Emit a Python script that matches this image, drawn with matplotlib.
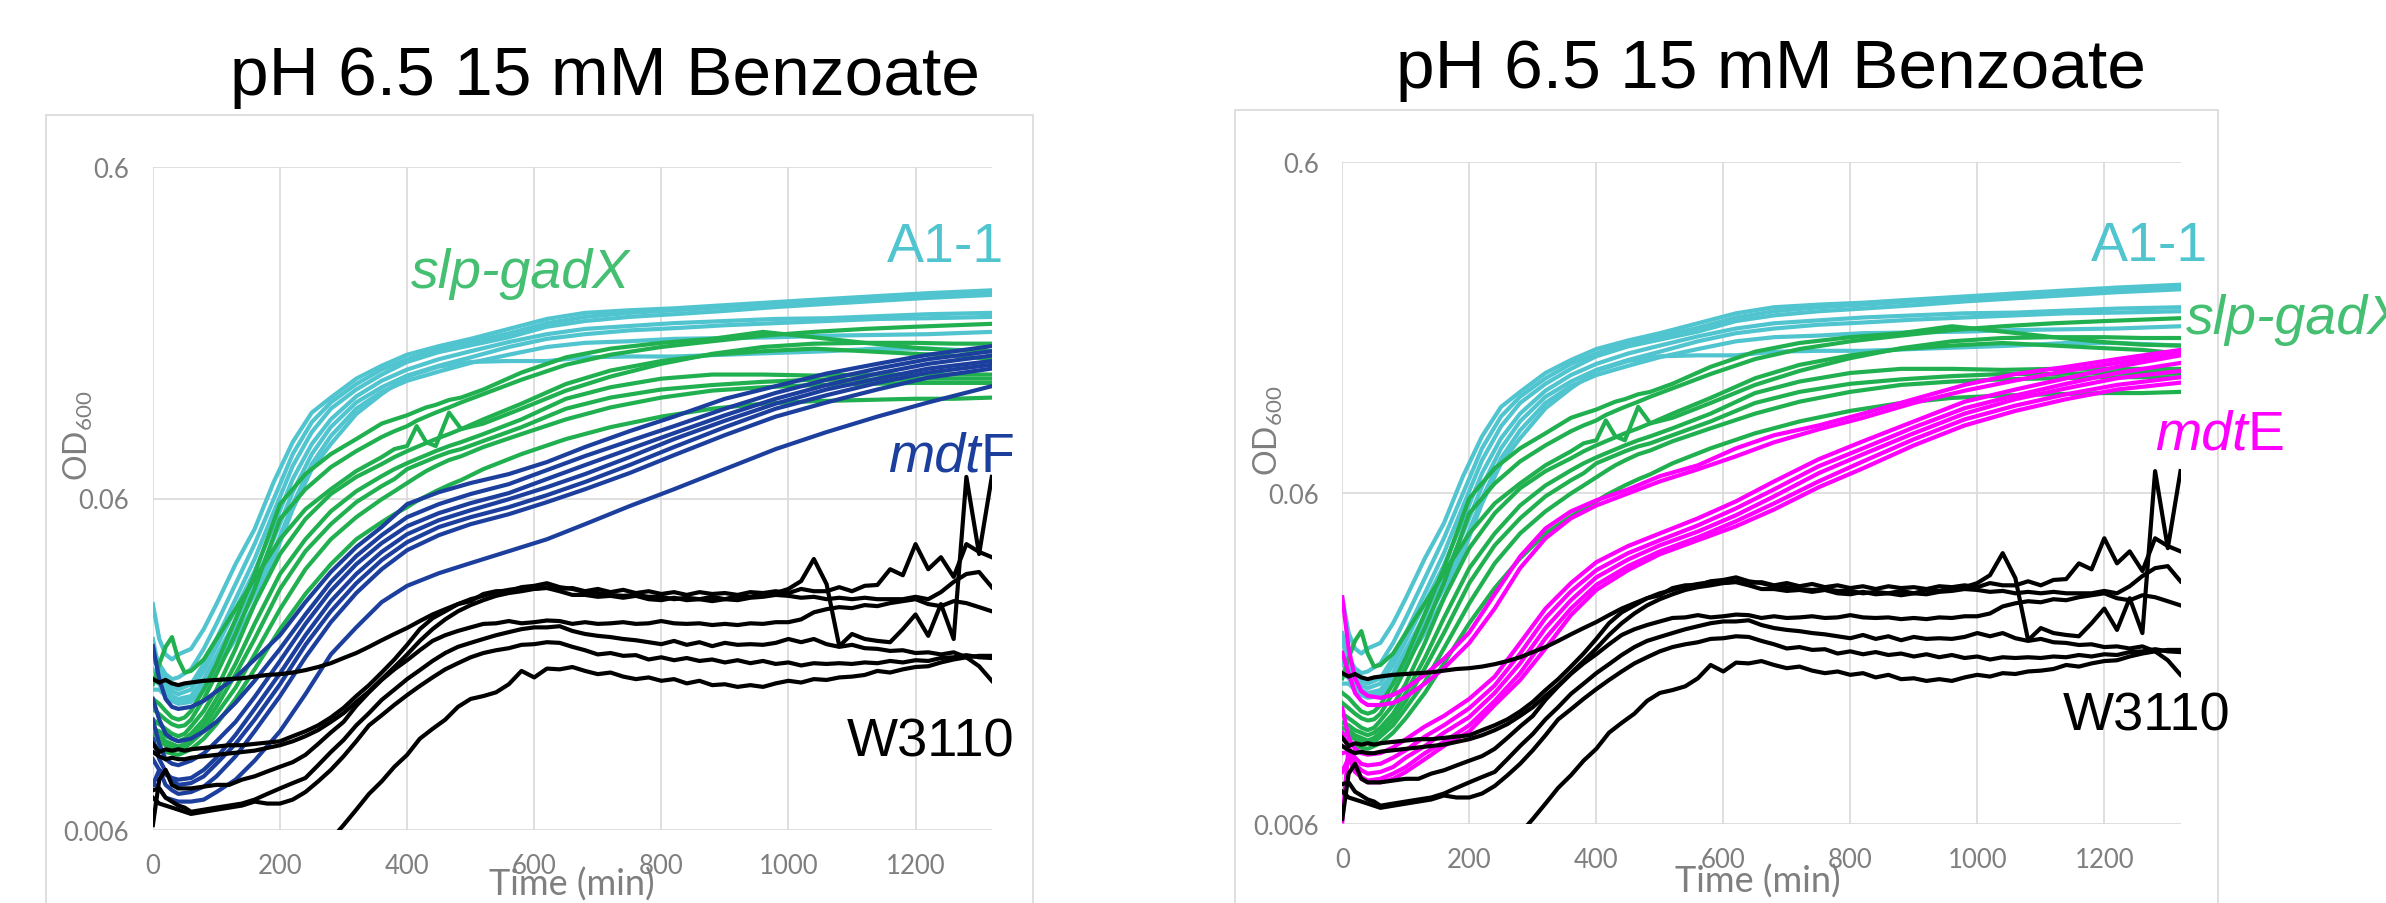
import matplotlib
matplotlib.use("Agg")
import matplotlib.pyplot as plt
from matplotlib.patches import Rectangle

W, H = 2386, 904

# sampling times (min) for each group of wells
t_a11 = [0, 10, 20, 30, 40, 60, 80, 100, 130, 160, 190, 220, 250, 280, 320,
         360, 400, 450, 500, 560, 620, 680, 750, 820, 900, 980, 1060, 1140, 1220, 1320]
t_gadx = [0, 10, 20, 30, 40, 50, 60, 80, 100, 130, 160, 200, 240, 280, 320, 360,
          380, 400, 415, 430, 445, 466, 485, 520, 580, 650, 720, 800, 880, 960,
          1040, 1120, 1200, 1260, 1320]
t_mdt = [0, 10, 20, 30, 40, 60, 80, 100, 130, 160, 200, 240, 280, 320, 360, 400,
         450, 500, 560, 620, 680, 750, 820, 900, 980, 1060, 1140, 1220, 1320]
t_wt = [0, 10, 20, 30, 40, 50, 60] + list(range(80, 1340, 20))

# OD600 replicates
a11 = [
    [0.0288, 0.0226, 0.0203, 0.0196, 0.0203, 0.0211, 0.0242, 0.0288, 0.0380, 0.0485, 0.0672, 0.0888, 0.109, 0.121, 0.138,
     0.151, 0.163, 0.173, 0.182, 0.195, 0.209, 0.218, 0.222, 0.225, 0.230, 0.235, 0.240, 0.245, 0.250, 0.255],
    [0.0211, 0.0190, 0.0177, 0.0171, 0.0173, 0.0183, 0.0211, 0.0251, 0.0331, 0.0437, 0.0597, 0.0817, 0.102, 0.117, 0.133,
     0.147, 0.158, 0.170, 0.178, 0.189, 0.203, 0.212, 0.218, 0.222, 0.227, 0.232, 0.237, 0.242, 0.247, 0.252],
    [0.0196, 0.0183, 0.0171, 0.0162, 0.0159, 0.0165, 0.0190, 0.0226, 0.0298, 0.0394, 0.0546, 0.0752, 0.0952, 0.112, 0.128,
     0.142, 0.155, 0.166, 0.174, 0.184, 0.198, 0.206, 0.212, 0.216, 0.221, 0.227, 0.232, 0.237, 0.242, 0.247],
    [0.0226, 0.0181, 0.0165, 0.0157, 0.0154, 0.0159, 0.0181, 0.0214, 0.0278, 0.0362, 0.0495, 0.0687, 0.0876, 0.104, 0.122,
     0.136, 0.147, 0.158, 0.167, 0.178, 0.188, 0.195, 0.199, 0.203, 0.206, 0.209, 0.210, 0.213, 0.216, 0.218],
    [0.0183, 0.0173, 0.0159, 0.0152, 0.0149, 0.0152, 0.0171, 0.0201, 0.0256, 0.0333, 0.0452, 0.0627, 0.0817, 0.0986, 0.117,
     0.130, 0.141, 0.151, 0.160, 0.172, 0.182, 0.188, 0.193, 0.196, 0.200, 0.203, 0.206, 0.209, 0.210, 0.212],
    [0.0171, 0.0165, 0.0154, 0.0149, 0.0146, 0.0149, 0.0164, 0.0190, 0.0242, 0.0309, 0.0413, 0.0577, 0.0762, 0.0926, 0.112,
     0.126, 0.136, 0.145, 0.154, 0.163, 0.172, 0.177, 0.179, 0.182, 0.183, 0.184, 0.186, 0.187, 0.188, 0.191],
    [0.0159, 0.0159, 0.0152, 0.0147, 0.0144, 0.0146, 0.0159, 0.0183, 0.0226, 0.0288, 0.0394, 0.0557, 0.0736, 0.0876, 0.108,
     0.124, 0.140, 0.150, 0.155, 0.156, 0.156, 0.160, 0.161, 0.161, 0.163, 0.165, 0.167, 0.170, 0.170, 0.167],
]

slp_gadx = [
    [0.0149, 0.0144, 0.0137, 0.0131, 0.0129, 0.0131, 0.0137, 0.0159, 0.0190, 0.0259, 0.0355, 0.0577, 0.0711, 0.0817,
     0.0907, 0.101, 0.104, 0.107, 0.110, 0.113, 0.115, 0.119, 0.121, 0.128, 0.144, 0.160, 0.170, 0.177, 0.182, 0.191,
     0.184, 0.177, 0.171, 0.168, 0.167],
    [0.0139, 0.0134, 0.0129, 0.0125, 0.0123, 0.0124, 0.0129, 0.0149, 0.0177, 0.0234, 0.0320, 0.0520, 0.0640, 0.0746,
     0.0834, 0.0920, 0.0958, 0.0992, 0.103, 0.106, 0.109, 0.113, 0.117, 0.124, 0.137, 0.152, 0.163, 0.172, 0.179, 0.186,
     0.191, 0.195, 0.198, 0.200, 0.202],
    [0.0165, 0.0190, 0.0214, 0.0229, 0.0196, 0.0179, 0.0181, 0.0196, 0.0226, 0.0278, 0.0343, 0.0452, 0.0557, 0.0640,
     0.0726, 0.0800, 0.0846, 0.0864, 0.0992, 0.0888, 0.0864, 0.109, 0.0972, 0.101, 0.112, 0.127, 0.140, 0.153, 0.164,
     0.172, 0.176, 0.177, 0.177, 0.176, 0.176],
    [0.0129, 0.0125, 0.0121, 0.0117, 0.0115, 0.0117, 0.0123, 0.0137, 0.0159, 0.0211, 0.0288, 0.0408, 0.0520, 0.0619,
     0.0697, 0.0762, 0.0800, 0.0834, 0.0858, 0.0882, 0.0907, 0.0939, 0.0972, 0.104, 0.116, 0.133, 0.146, 0.156, 0.163,
     0.167, 0.170, 0.167, 0.164, 0.162, 0.158],
    [0.0121, 0.0119, 0.0115, 0.0113, 0.0111, 0.0113, 0.0117, 0.0129, 0.0149, 0.0190, 0.0251, 0.0355, 0.0452, 0.0549,
     0.0631, 0.0701, 0.0736, 0.0767, 0.0789, 0.0811, 0.0834, 0.0864, 0.0888, 0.0939, 0.104, 0.120, 0.130, 0.138, 0.142,
     0.142, 0.141, 0.142, 0.142, 0.142, 0.142],
    [0.0117, 0.0115, 0.0111, 0.0109, 0.0107, 0.0109, 0.0113, 0.0124, 0.0141, 0.0177, 0.0226, 0.0320, 0.0416, 0.0502,
     0.0585, 0.0654, 0.0687, 0.0736, 0.0757, 0.0778, 0.0800, 0.0828, 0.0846, 0.0895, 0.0985, 0.112, 0.121, 0.128, 0.132,
     0.135, 0.137, 0.137, 0.138, 0.138, 0.138],
    [0.0113, 0.0111, 0.0108, 0.0106, 0.0105, 0.0106, 0.0110, 0.0119, 0.0134, 0.0161, 0.0203, 0.0278, 0.0367, 0.0452,
     0.0527, 0.0597, 0.0631, 0.0668, 0.0697, 0.0726, 0.0751, 0.0784, 0.0805, 0.0858, 0.0939, 0.104, 0.113, 0.121, 0.127,
     0.130, 0.132, 0.133, 0.134, 0.134, 0.134],
    [0.0109, 0.0106, 0.0103, 0.0102, 0.0101, 0.0103, 0.0105, 0.0113, 0.0125, 0.0149, 0.0183, 0.0242, 0.0309, 0.0380,
     0.0452, 0.0509, 0.0538, 0.0565, 0.0589, 0.0610, 0.0631, 0.0659, 0.0682, 0.0736, 0.0817, 0.0907, 0.0985, 0.106,
     0.112, 0.116, 0.118, 0.119, 0.120, 0.120, 0.121],
]

mdtf = [
    [0.0215, 0.0171, 0.0149, 0.0141, 0.0139, 0.0141, 0.0147, 0.0157, 0.0173, 0.0196, 0.0232, 0.0292, 0.0360, 0.0428,
     0.0492, 0.0577, 0.0627, 0.0668, 0.0711, 0.0773, 0.0858, 0.0958, 0.106, 0.120, 0.131, 0.143, 0.153, 0.163, 0.173],
    [0.0149, 0.0129, 0.0117, 0.0113, 0.0111, 0.0113, 0.0119, 0.0127, 0.0145, 0.0169, 0.0211, 0.0268, 0.0336, 0.0402,
     0.0465, 0.0527, 0.0577, 0.0619, 0.0663, 0.0731, 0.0806, 0.0895, 0.0992, 0.112, 0.125, 0.137, 0.148, 0.158, 0.167],
    [0.0129, 0.0109, 0.0098, 0.0095, 0.0094, 0.0097, 0.0102, 0.0111, 0.0127, 0.0151, 0.0194, 0.0251, 0.0316, 0.0380,
     0.0440, 0.0495, 0.0542, 0.0581, 0.0623, 0.0687, 0.0757, 0.0846, 0.0945, 0.107, 0.120, 0.132, 0.143, 0.153, 0.162],
    [0.0098, 0.0091, 0.0088, 0.0086, 0.0085, 0.0086, 0.0091, 0.0099, 0.0116, 0.0139, 0.0178, 0.0232, 0.0294, 0.0355,
     0.0414, 0.0468, 0.0516, 0.0553, 0.0597, 0.0649, 0.0711, 0.0800, 0.0907, 0.103, 0.116, 0.128, 0.138, 0.148, 0.156],
    [0.0113, 0.0098, 0.0090, 0.0085, 0.0082, 0.0083, 0.0087, 0.0095, 0.0109, 0.0129, 0.0165, 0.0217, 0.0274, 0.0333,
     0.0391, 0.0443, 0.0492, 0.0527, 0.0565, 0.0614, 0.0673, 0.0757, 0.0858, 0.0985, 0.112, 0.123, 0.134, 0.144, 0.152],
    [0.0082, 0.0091, 0.0082, 0.0079, 0.0077, 0.0078, 0.0081, 0.0087, 0.0100, 0.0119, 0.0152, 0.0199, 0.0254, 0.0311,
     0.0367, 0.0419, 0.0465, 0.0502, 0.0538, 0.0585, 0.0640, 0.0716, 0.0811, 0.0932, 0.106, 0.117, 0.128, 0.139, 0.148],
    [0.0083, 0.0080, 0.0075, 0.0074, 0.0073, 0.0073, 0.0074, 0.0078, 0.0085, 0.0097, 0.0119, 0.0154, 0.0203, 0.0245,
     0.0292, 0.0327, 0.0357, 0.0383, 0.0416, 0.0452, 0.0502, 0.0569, 0.0640, 0.0736, 0.0846, 0.0952, 0.106, 0.117, 0.131],
]

mdte = [
    [0.0290, 0.0203, 0.0165, 0.0151, 0.0146, 0.0144, 0.0147, 0.0154, 0.0169, 0.0189, 0.0227, 0.0296, 0.0385, 0.0468,
     0.0527, 0.0569, 0.0614, 0.0673, 0.0726, 0.0817, 0.0895, 0.0958, 0.104, 0.115, 0.127, 0.137, 0.144, 0.152, 0.162],
    [0.0197, 0.0171, 0.0149, 0.0141, 0.0137, 0.0137, 0.0139, 0.0145, 0.0159, 0.0177, 0.0211, 0.0268, 0.0355, 0.0437,
     0.0502, 0.0549, 0.0597, 0.0649, 0.0706, 0.0773, 0.0852, 0.0932, 0.101, 0.112, 0.122, 0.131, 0.140, 0.148, 0.158],
    [0.0134, 0.0109, 0.0101, 0.0098, 0.0097, 0.0098, 0.0102, 0.0108, 0.0118, 0.0127, 0.0143, 0.0167, 0.0211, 0.0268,
     0.0320, 0.0370, 0.0414, 0.0452, 0.0502, 0.0565, 0.0649, 0.0757, 0.0858, 0.0985, 0.113, 0.123, 0.133, 0.144, 0.156],
    [0.0113, 0.0101, 0.0095, 0.0091, 0.0090, 0.0091, 0.0095, 0.0100, 0.0110, 0.0119, 0.0134, 0.0157, 0.0196, 0.0251,
     0.0302, 0.0350, 0.0394, 0.0431, 0.0478, 0.0538, 0.0614, 0.0721, 0.0817, 0.0945, 0.108, 0.118, 0.128, 0.138, 0.148],
    [0.0098, 0.0099, 0.0091, 0.0087, 0.0085, 0.0086, 0.0089, 0.0095, 0.0103, 0.0113, 0.0126, 0.0149, 0.0183, 0.0234,
     0.0284, 0.0333, 0.0377, 0.0416, 0.0458, 0.0513, 0.0585, 0.0687, 0.0784, 0.0907, 0.104, 0.115, 0.124, 0.133, 0.140],
    [0.0086, 0.0095, 0.0086, 0.0083, 0.0081, 0.0082, 0.0085, 0.0089, 0.0098, 0.0106, 0.0119, 0.0141, 0.0171, 0.0218,
     0.0268, 0.0316, 0.0360, 0.0399, 0.0440, 0.0492, 0.0557, 0.0649, 0.0746, 0.0870, 0.0999, 0.110, 0.119, 0.127, 0.134],
    [0.0061, 0.0103, 0.0091, 0.0082, 0.0080, 0.0080, 0.0082, 0.0086, 0.0094, 0.0103, 0.0114, 0.0137, 0.0163, 0.0203,
     0.0256, 0.0305, 0.0350, 0.0391, 0.0431, 0.0475, 0.0534, 0.0623, 0.0711, 0.0834, 0.0958, 0.106, 0.115, 0.123, 0.129],
]

w3110 = [
    [0.0171, 0.0167, 0.0170, 0.0166, 0.0164, 0.0166, 0.0167,
     0.0169, 0.0170, 0.0171, 0.0172, 0.0174, 0.0176, 0.0177, 0.0179, 0.0182, 0.0186, 0.0191, 0.0198, 0.0205, 0.0214,
     0.0224, 0.0234, 0.0244, 0.0256, 0.0268, 0.0278, 0.0288, 0.0298, 0.0305, 0.0313, 0.0318, 0.0322, 0.0320, 0.0324,
     0.0320, 0.0322, 0.0315, 0.0320, 0.0313, 0.0318, 0.0311, 0.0315, 0.0309, 0.0313, 0.0307, 0.0313, 0.0309, 0.0311,
     0.0307, 0.0313, 0.0311, 0.0315, 0.0311, 0.0320, 0.0315, 0.0315, 0.0324, 0.0315, 0.0327, 0.0329, 0.0367, 0.0352,
     0.0437, 0.0367, 0.0399, 0.0348, 0.0437, 0.0414, 0.0399],
    [0.0109, 0.0103, 0.0105, 0.0104, 0.0105, 0.0104, 0.0105,
     0.0106, 0.0107, 0.0108, 0.0108, 0.0109, 0.0110, 0.0111, 0.0115, 0.0119, 0.0124, 0.0131, 0.0140, 0.0152, 0.0164,
     0.0179, 0.0196, 0.0217, 0.0242, 0.0261, 0.0274, 0.0288, 0.0294, 0.0309, 0.0315, 0.0315, 0.0324, 0.0327, 0.0333,
     0.0324, 0.0320, 0.0313, 0.0311, 0.0307, 0.0305, 0.0307, 0.0303, 0.0303, 0.0298, 0.0301, 0.0298, 0.0303, 0.0298,
     0.0305, 0.0303, 0.0309, 0.0311, 0.0320, 0.0338, 0.0394, 0.0331, 0.0215, 0.0234, 0.0226, 0.0223, 0.0221, 0.0242,
     0.0268, 0.0231, 0.0288, 0.0226, 0.0697, 0.0408, 0.0697],
    [0.0103, 0.0100, 0.0098, 0.0099, 0.0098, 0.0098, 0.0099,
     0.0100, 0.0101, 0.0102, 0.0103, 0.0104, 0.0106, 0.0108, 0.0111, 0.0115, 0.0120, 0.0127, 0.0135, 0.0146, 0.0157,
     0.0171, 0.0186, 0.0203, 0.0223, 0.0242, 0.0259, 0.0274, 0.0286, 0.0296, 0.0305, 0.0311, 0.0315, 0.0320, 0.0322,
     0.0315, 0.0307, 0.0307, 0.0303, 0.0305, 0.0301, 0.0305, 0.0298, 0.0296, 0.0301, 0.0296, 0.0298, 0.0294, 0.0298,
     0.0296, 0.0301, 0.0303, 0.0307, 0.0305, 0.0301, 0.0303, 0.0298, 0.0301, 0.0298, 0.0301, 0.0298, 0.0298, 0.0298,
     0.0303, 0.0298, 0.0313, 0.0336, 0.0355, 0.0360, 0.0324],
    [0.0062, 0.0085, 0.0091, 0.0082, 0.0080, 0.0080, 0.0080,
     0.0081, 0.0082, 0.0082, 0.0085, 0.0087, 0.0090, 0.0093, 0.0096, 0.0101, 0.0109, 0.0118, 0.0127, 0.0142, 0.0156,
     0.0170, 0.0183, 0.0195, 0.0209, 0.0223, 0.0232, 0.0239, 0.0245, 0.0251, 0.0252, 0.0256, 0.0252, 0.0254, 0.0257,
     0.0256, 0.0251, 0.0254, 0.0251, 0.0252, 0.0254, 0.0251, 0.0252, 0.0256, 0.0252, 0.0251, 0.0252, 0.0249, 0.0251,
     0.0249, 0.0252, 0.0251, 0.0254, 0.0254, 0.0259, 0.0272, 0.0278, 0.0282, 0.0280, 0.0286, 0.0284, 0.0290, 0.0294,
     0.0298, 0.0288, 0.0284, 0.0294, 0.0290, 0.0282, 0.0274],
    [0.0079, 0.0080, 0.0075, 0.0073, 0.0071, 0.0070, 0.0068,
     0.0069, 0.0070, 0.0071, 0.0072, 0.0074, 0.0077, 0.0080, 0.0083, 0.0086, 0.0094, 0.0103, 0.0112, 0.0124, 0.0135,
     0.0148, 0.0159, 0.0171, 0.0182, 0.0194, 0.0205, 0.0214, 0.0220, 0.0226, 0.0232, 0.0237, 0.0242, 0.0245, 0.0245,
     0.0247, 0.0239, 0.0234, 0.0231, 0.0229, 0.0226, 0.0224, 0.0221, 0.0218, 0.0223, 0.0217, 0.0221, 0.0215, 0.0220,
     0.0217, 0.0218, 0.0217, 0.0220, 0.0226, 0.0221, 0.0226, 0.0218, 0.0214, 0.0217, 0.0212, 0.0211, 0.0208, 0.0209,
     0.0205, 0.0206, 0.0203, 0.0206, 0.0199, 0.0187, 0.0169],
    [0.0075, 0.0072, 0.0071, 0.0070, 0.0069, 0.0068, 0.0067,
     0.0068, 0.0069, 0.0070, 0.0071, 0.0073, 0.0072, 0.0072, 0.0074, 0.0078, 0.0084, 0.0091, 0.0100, 0.0111, 0.0124,
     0.0133, 0.0143, 0.0153, 0.0163, 0.0173, 0.0183, 0.0191, 0.0199, 0.0205, 0.0209, 0.0212, 0.0217, 0.0218, 0.0221,
     0.0220, 0.0214, 0.0209, 0.0203, 0.0205, 0.0201, 0.0202, 0.0196, 0.0199, 0.0195, 0.0198, 0.0194, 0.0196, 0.0192,
     0.0195, 0.0191, 0.0194, 0.0190, 0.0192, 0.0188, 0.0191, 0.0190, 0.0191, 0.0190, 0.0192, 0.0191, 0.0194, 0.0192,
     0.0195, 0.0194, 0.0198, 0.0199, 0.0202, 0.0199, 0.0198],
    [0.0046, 0.0045, 0.0044, 0.0043, 0.0043, 0.0042, 0.0042,
     0.0042, 0.0043, 0.0043, 0.0044, 0.0046, 0.0047, 0.0050, 0.0052, 0.0053, 0.0054, 0.0056, 0.0062, 0.0069, 0.0077,
     0.0084, 0.0093, 0.0101, 0.0113, 0.0121, 0.0129, 0.0141, 0.0149, 0.0152, 0.0156, 0.0165, 0.0181, 0.0173, 0.0184,
     0.0183, 0.0186, 0.0181, 0.0177, 0.0179, 0.0174, 0.0171, 0.0173, 0.0169, 0.0171, 0.0166, 0.0169, 0.0164, 0.0165,
     0.0162, 0.0164, 0.0162, 0.0166, 0.0169, 0.0167, 0.0171, 0.0170, 0.0173, 0.0174, 0.0176, 0.0181, 0.0179, 0.0183,
     0.0186, 0.0187, 0.0192, 0.0196, 0.0199, 0.0201, 0.0201],
]

CYAN = "#50C4CF"
GREEN = "#21B04F"
BLUE = "#1C3F9E"
MAGENTA = "#FF00FF"
GRID = "#D9D9D9"
AXIS_TEXT = "#7F7F7F"
LW = 3.0

plt.rcParams["font.family"] = ["Lato", "DejaVu Sans"]
plt.rcParams["mathtext.fontset"] = "custom"
plt.rcParams["mathtext.rm"] = "Lato"

fig = plt.figure(figsize=(W / 100, H / 100), dpi=100)
renderer = fig.canvas.get_renderer()


def fx(px):
    return px / W


def fy(py):
    return 1 - py / H


def panel(box, frame, mutant, mutant_color):
    x0, x1, ytop, ybot = box
    fig.patches.append(Rectangle((fx(frame[0]), -0.2), fx(frame[1] - frame[0]), fy(frame[2]) + 0.2,
                                 transform=fig.transFigure, fill=False, ec=GRID, lw=1.2))
    ax = fig.add_axes([fx(x0), fy(ybot), fx(x1 - x0), (ybot - ytop) / H])
    for od in a11:
        ax.plot(t_a11, od, color=CYAN, lw=LW)
    for od in slp_gadx:
        ax.plot(t_gadx, od, color=GREEN, lw=LW)
    for od in mutant:
        ax.plot(t_mdt, od, color=mutant_color, lw=LW)
    for od in w3110:
        ax.plot(t_wt, od, color="black", lw=LW)
    ax.set_yscale("log")
    ax.set_xlim(0, 1320)
    ax.set_ylim(0.006, 0.6)
    ax.set_xticks(range(0, 1400, 200))
    ax.set_yticks([0.006, 0.06, 0.6])
    ax.set_yticklabels(["0.006", "0.06", "0.6"])
    ax.minorticks_off()
    ax.set_axisbelow(True)
    ax.grid(True, color=GRID, lw=1.2)
    for s in ax.spines.values():
        s.set_visible(False)
    ax.tick_params(length=0, labelsize=18.5, labelcolor=AXIS_TEXT, pad=17)
    return ax


def label(x, y, parts, color, size=40):
    # parts: (text, style) pieces written one after another on the same baseline
    cur = x
    for text, style in parts:
        t = fig.text(fx(cur), fy(y), text, color=color, fontsize=size, style=style,
                     family="Liberation Sans", ha="left", va="baseline")
        cur = t.get_window_extent(renderer).x1


panel((152.9, 991.8, 168.2, 830.8), (46, 1033, 116), mdtf, BLUE)
panel((1342.3, 2180.5, 162.7, 824.7), (1235, 2218, 111), mdte, MAGENTA)

title = "pH 6.5 15 mM Benzoate"
fig.text(fx(605), fy(95), title, ha="center", va="baseline", fontsize=50, family="Liberation Sans")
fig.text(fx(1771), fy(88), title, ha="center", va="baseline", fontsize=50, family="Liberation Sans")

for xc, yc in [(572, 885), (1758, 882)]:
    fig.text(fx(xc), fy(yc), "Time (min)", ha="center", va="center", fontsize=26, color=AXIS_TEXT)
for xc, yc in [(78, 436), (1268, 431)]:
    fig.text(fx(xc), fy(yc), r"$\mathrm{OD}_{600}$", ha="center", va="center", rotation=90,
             fontsize=23, color=AXIS_TEXT)

# strain labels, left panel
label(887, 262, [("A1-1", "normal")], CYAN)
label(411, 288, [("slp-gadX", "italic")], "#45BF72")
label(888, 472, [("mdt", "italic"), ("F", "normal")], BLUE)
label(847, 757, [("W3110", "normal")], "black", 39)

# strain labels, right panel
label(2091, 261, [("A1-1", "normal")], CYAN)
label(2186, 334, [("slp-gadX", "italic")], "#45BF72")
label(2155, 450, [("mdt", "italic"), ("E", "normal")], MAGENTA)
label(2063, 731, [("W3110", "normal")], "black", 39)

fig.savefig("out.png", dpi=100)
